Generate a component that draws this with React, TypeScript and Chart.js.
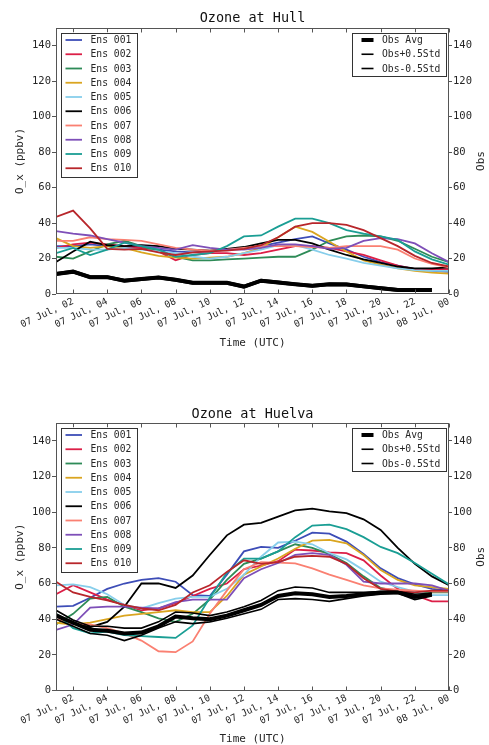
import React, { useEffect, useRef } from "react";
import { Chart, registerables } from "chart.js";

Chart.register(...registerables);

// ---------- shared axes / labels ----------
const hours = [1, 2, 3, 4, 5, 6, 7, 8, 9, 10, 11, 12, 13, 14, 15, 16, 17, 18, 19, 20, 21, 22, 23, 24];
const xTickValues = [2, 4, 6, 8, 10, 12, 14, 16, 18, 20, 22, 24];
const xTickLabels = [
  "07 Jul, 02", "07 Jul, 04", "07 Jul, 06", "07 Jul, 08", "07 Jul, 10", "07 Jul, 12",
  "07 Jul, 14", "07 Jul, 16", "07 Jul, 18", "07 Jul, 20", "07 Jul, 22", "08 Jul, 00",
];
const yTickValues = [0, 20, 40, 60, 80, 100, 120, 140];

const ensLabels = ["Ens 001", "Ens 002", "Ens 003", "Ens 004", "Ens 005", "Ens 006", "Ens 007", "Ens 008", "Ens 009", "Ens 010"];
const ensColors = ["#3d4db7", "#dc1f47", "#2e8b57", "#daa520", "#87ceeb", "#000000", "#fa8072", "#7e4fb8", "#1a9e94", "#b8262b"];
const obsLabels = ["Obs Avg", "Obs+0.5Std", "Obs-0.5Std"];

// ---------- Hull ----------
const hullEns001 = [27, 27, 28, 27, 26.5, 26, 25, 24, 23.5, 24, 25, 26, 27, 29, 31, 32.5, 28.5, 25, 21, 18, 16, 14, 13, 12.5];
const hullEns002 = [26, 28, 29, 28, 27, 26, 24, 19, 22, 23, 23, 22, 23, 25, 27, 27, 26, 24, 22, 19, 16, 14, 14, 14];
const hullEns003 = [21, 20, 24, 28, 30, 27, 24, 21, 19, 19, 19.5, 20, 20.5, 21, 21, 25, 30, 32.5, 33, 32.5, 30, 25.5, 21, 18];
const hullEns004 = [31.5, 27, 26, 27, 26, 23.5, 21.5, 20.5, 20, 20.5, 21, 23, 26, 32, 38, 35, 29.5, 24, 19, 16.5, 14.5, 13, 12, 11.5];
const hullEns005 = [26, 26, 25, 25, 26, 25, 24, 23, 21, 20, 21, 23, 25, 27.5, 27.5, 25, 22, 20, 17.5, 16, 14.5, 13.5, 13, 13];
const hullEns006 = [18, 24, 29.5, 27.5, 27, 27.5, 27, 25.5, 25, 24.5, 25.5, 26.5, 28.5, 30.5, 30.5, 28.5, 25, 22, 19.5, 17.5, 15.5, 14.5, 14.5, 15];
const hullEns007 = [30, 30, 32, 31, 30.5, 30, 28, 26, 25, 24.5, 25, 26, 27, 27, 27, 26.5, 26, 27, 27, 27, 25, 20, 17, 15];
const hullEns008 = [35.5, 34, 33, 31, 29, 27, 26, 25, 27.5, 26, 25, 25, 26, 28, 28, 27, 25.5, 26, 30, 31.5, 31, 28.5, 23, 18];
const hullEns009 = [23, 26, 22, 25, 29, 27, 25, 21, 22, 23, 27, 32.5, 33, 38, 42.5, 42.5, 40, 36, 34, 32.5, 30.5, 24, 19.5, 16.5];
const hullEns010 = [43.5, 47, 37, 25.5, 25, 25.5, 23.5, 22, 23.5, 24, 24.5, 25.5, 27.5, 32, 38, 40, 40, 39, 36, 31.5, 27, 21.5, 17.5, 15.5];
const hullObsAvg = [11.3, 12.6, 9.5, 9.5, 7.5, 8.4, 9.3, 8, 6.3, 6.3, 6.3, 4.2, 7.5, 6.5, 5.5, 4.6, 5.5, 5.4, 4.3, 3.3, 2.3, 2.3, 2.3];
const hullObsPlus = [11.9, 13.2, 10.1, 10.1, 8.1, 9.0, 9.9, 8.6, 6.9, 6.9, 6.9, 4.8, 8.1, 7.1, 6.1, 5.2, 6.1, 6.0, 4.9, 3.9, 2.9, 2.9, 2.9];
const hullObsMinus = [10.7, 12.0, 8.9, 8.9, 6.9, 7.8, 8.7, 7.4, 5.7, 5.7, 5.7, 3.6, 6.9, 5.9, 4.9, 4.0, 4.9, 4.8, 3.7, 2.7, 1.7, 1.7, 1.7];

// ---------- Huelva ----------
const huelvaEns001 = [47, 47.5, 52, 57, 60, 62, 63, 61, 53.5, 53, 65, 78, 80.5, 80, 84, 88.5, 88, 83.5, 76.5, 68.5, 63, 59.5, 57, 56];
const huelvaEns002 = [54, 59, 55, 51, 48, 45, 46, 49, 53, 57, 60, 68, 70, 72.5, 79, 78.5, 77.5, 77, 73, 64.5, 57, 53.5, 50, 50];
const huelvaEns003 = [37, 43, 51.5, 52.5, 47, 44, 40.5, 38.5, 43, 51, 62, 71, 74, 78, 82, 80, 76.5, 71.5, 64, 57.5, 55.5, 55, 55, 55];
const huelvaEns004 = [38, 37, 38, 40, 42, 43, 44, 45, 44, 44, 53, 65, 69.5, 74, 79.5, 84, 84.5, 82.5, 76, 67.5, 62, 59, 58, 57];
const huelvaEns005 = [59, 59.5, 58, 54, 48, 46, 49, 51.5, 52.5, 52.5, 57, 65, 75, 83, 83.5, 82, 77, 73.5, 67.5, 61, 58, 55.5, 53.5, 53.5];
const huelvaEns006 = [43, 38, 35.5, 38.5, 47, 60, 60, 57.5, 64.5, 76, 87, 93, 94, 97.5, 101, 102, 100.5, 99.5, 96, 90, 80, 71, 64, 59];
const huelvaEns007 = [40, 37.5, 37, 35, 32, 28, 22, 21.5, 27.5, 43, 56, 68, 72, 71.7, 71.3, 68.5, 65, 62, 59, 57.3, 56.5, 56, 55.5, 55.5];
const huelvaEns008 = [34, 37, 46.5, 47, 47, 46.5, 46, 49.5, 51, 51, 51, 63, 68, 71.5, 76, 77, 76, 70.5, 61, 60, 60, 60, 59, 56];
const huelvaEns009 = [43, 35, 32, 33, 31, 30.5, 30, 29.5, 36.5, 52, 66, 74, 74, 78, 86, 92.5, 93, 90.5, 86, 80.5, 77, 71.5, 65.5, 59.5];
const huelvaEns010 = [61, 55, 52.5, 50.5, 48, 46, 45, 48, 55, 59, 66.5, 73, 71, 72, 75, 75.5, 75, 71, 63, 57, 55.5, 55, 56, 56];
const huelvaObsAvg = [42, 38, 34, 33.5, 32, 32.5, 36, 41.5, 40.5, 40, 42, 45, 48, 53, 54.5, 54, 52.5, 53, 54, 55, 55, 52.5, 54];
const huelvaObsPlus = [45, 39.5, 36, 36, 35, 35, 38.5, 44, 43.5, 42, 44, 47, 50.5, 56, 58, 57.5, 55, 55, 55, 55.5, 55.5, 54, 54.5];
const huelvaObsMinus = [40, 36, 32, 31, 28, 31, 35, 38.5, 37.5, 38.5, 40.5, 43, 45.5, 51, 51.5, 51, 50, 51.5, 53, 54, 54.5, 51, 53];

const hullEns = [hullEns001, hullEns002, hullEns003, hullEns004, hullEns005, hullEns006, hullEns007, hullEns008, hullEns009, hullEns010];
const hullObs = [hullObsAvg, hullObsPlus, hullObsMinus];
const huelvaEns = [huelvaEns001, huelvaEns002, huelvaEns003, huelvaEns004, huelvaEns005, huelvaEns006, huelvaEns007, huelvaEns008, huelvaEns009, huelvaEns010];
const huelvaObs = [huelvaObsAvg, huelvaObsPlus, huelvaObsMinus];

const MONO = "'DejaVu Sans Mono', monospace";
const TEXT = "#262626";
const FRAME = "#555555";

type PanelProps = {
  title: string;
  ens: number[][];
  obs: number[][];
  top: number;
  height: number;
  areaTop: number;
  areaBottom: number;
  titleGap: number;
  xTitlePad: number;
};

const decorPlugin = {
  id: "decor",
  afterDatasetsDraw(chart: any, _args: any, opts: any) {
    const { ctx, chartArea: a } = chart;
    const xs = chart.scales.x;
    ctx.save();
    // frame
    const L = Math.round(a.left) + 0.5;
    const R = Math.round(a.right) - 0.5;
    const T = Math.round(a.top) + 0.5;
    const B = Math.round(a.bottom) - 0.5;
    ctx.strokeStyle = FRAME;
    ctx.lineWidth = 1;
    ctx.strokeRect(L, T, R - L, B - T);
    // inner x ticks (top and bottom)
    ctx.beginPath();
    xTickValues.forEach((v) => {
      const px = Math.round(xs.getPixelForValue(v)) + 0.5;
      ctx.moveTo(px, B);
      ctx.lineTo(px, B - 4);
      ctx.moveTo(px, T);
      ctx.lineTo(px, T + 4);
    });
    ctx.stroke();

    const ds = chart.data.datasets;
    const drawLegend = (items: any[], bx: number, by: number, bw: number, bh: number, sx0: number, sx1: number) => {
      ctx.fillStyle = "#ffffff";
      ctx.fillRect(bx, by, bw, bh);
      ctx.strokeStyle = "#333333";
      ctx.lineWidth = 1;
      ctx.strokeRect(Math.round(bx) + 0.5, Math.round(by) + 0.5, Math.round(bw), Math.round(bh));
      ctx.font = `9.7px ${MONO}`;
      ctx.textBaseline = "middle";
      ctx.textAlign = "left";
      items.forEach((d: any, i: number) => {
        const y = by + 7.5 + i * 14.25;
        ctx.strokeStyle = d.borderColor;
        ctx.lineWidth = d.borderWidth;
        ctx.beginPath();
        ctx.moveTo(bx + sx0, y);
        ctx.lineTo(bx + sx1, y);
        ctx.stroke();
        ctx.fillStyle = TEXT;
        ctx.fillText(d.label, bx + 30, y + 0.5);
      });
    };
    const ensDs = ds.filter((d: any) => d.yAxisID === "y");
    const obsDs = ds.filter((d: any) => d.yAxisID === "y2");
    drawLegend(ensDs, a.left + 4.5, a.top + 4.5, 76, 144, 5, 21.5);
    drawLegend(obsDs, a.right - 97, a.top + 4.5, 94, 42.5, 9.5, 21.5);

    // title
    ctx.fillStyle = "#111111";
    ctx.font = `13.5px ${MONO}`;
    ctx.textAlign = "center";
    ctx.textBaseline = "middle";
    ctx.fillText(opts.title, (a.left + a.right) / 2, a.top - opts.titleGap);
    // right axis label (matplotlib style, reads bottom-to-top)
    ctx.save();
    ctx.translate(481, (a.top + a.bottom) / 2);
    ctx.rotate(-Math.PI / 2);
    ctx.font = `11px ${MONO}`;
    ctx.fillStyle = TEXT;
    ctx.fillText("Obs", 0, 0);
    ctx.restore();
    ctx.restore();
  },
};

function Panel(props: PanelProps) {
  const ref = useRef<HTMLCanvasElement | null>(null);
  useEffect(() => {
    if (!ref.current) return;
    const { ens, obs, height, areaTop, areaBottom } = props;
    const datasets: any[] = [];
    ens.forEach((vals, i) => {
      datasets.push({
        label: ensLabels[i],
        data: vals.map((v, j) => ({ x: hours[j], y: v })),
        borderColor: ensColors[i],
        backgroundColor: ensColors[i],
        borderWidth: 1.8,
        pointRadius: 0,
        tension: 0,
        yAxisID: "y",
        order: 20 - i,
      });
    });
    obs.forEach((vals, i) => {
      datasets.push({
        label: obsLabels[i],
        data: vals.map((v, j) => ({ x: hours[j], y: v })),
        borderColor: "#000000",
        backgroundColor: "#000000",
        borderWidth: i === 0 ? 4 : 1.6,
        pointRadius: 0,
        tension: 0,
        yAxisID: "y2",
        order: 3 - i,
      });
    });
    const tickFont = { family: MONO, size: 10.5 };
    const yCommon = {
      type: "linear" as const,
      min: 0,
      max: 150,
      afterBuildTicks: (s: any) => {
        s.ticks = yTickValues.map((v) => ({ value: v }));
      },
      border: { display: false },
      grid: { drawOnChartArea: false, drawTicks: true, tickLength: 4, color: FRAME },
      ticks: { font: tickFont, color: TEXT, padding: 1 },
    };
    const chart = new Chart(ref.current, {
      type: "line",
      data: { datasets },
      plugins: [decorPlugin],
      options: {
        animation: false,
        responsive: false,
        devicePixelRatio: 1,
        layout: { padding: { top: areaTop, left: 0, right: 0, bottom: 0 } },
        plugins: {
          legend: { display: false },
          tooltip: { enabled: false },
          title: { display: false },
          decor: { title: props.title, titleGap: props.titleGap },
        } as any,
        scales: {
          x: {
            type: "linear",
            min: 1,
            max: 24,
            afterBuildTicks: (s: any) => {
              s.ticks = xTickValues.map((v) => ({ value: v }));
            },
            afterFit: (s: any) => {
              s.height = height - areaBottom;
            },
            border: { display: false },
            grid: { display: false, drawTicks: false },
            ticks: {
              autoSkip: false,
              minRotation: 25,
              maxRotation: 25,
              padding: 2,
              font: { family: MONO, size: 9.5 },
              color: TEXT,
              callback: (v: any) => xTickLabels[xTickValues.indexOf(Number(v))],
            },
            title: {
              display: true,
              text: "Time (UTC)",
              color: TEXT,
              font: { family: MONO, size: 11, lineHeight: 1 },
              padding: { top: 0, bottom: props.xTitlePad },
            },
          },
          y: {
            ...yCommon,
            position: "left",
            afterFit: (s: any) => {
              s.width = 56;
            },
            title: {
              display: true,
              text: "O_x (ppbv)",
              color: TEXT,
              font: { family: MONO, size: 11, lineHeight: 1 },
              padding: { top: 15, bottom: 0 },
            },
          },
          y2: {
            ...yCommon,
            position: "right",
            grid: { drawOnChartArea: false, drawTicks: true, tickLength: 3, color: FRAME },
            afterFit: (s: any) => {
              s.width = 40;
            },
          },
        } as any,
      },
    });
    return () => chart.destroy();
  }, []);
  return (
    <canvas
      ref={ref}
      width={489}
      height={props.height}
      style={{ position: "absolute", left: 0, top: props.top, width: 489, height: props.height, display: "block" }}
    />
  );
}

export default function App() {
  return (
    <div style={{ position: "fixed", left: 0, top: 0, width: 489, height: 745, background: "#ffffff", overflow: "hidden" }}>
      <Panel title="Ozone at Hull" ens={hullEns} obs={hullObs} top={0} height={372} areaTop={28} areaBottom={294} titleGap={10} xTitlePad={23.5} />
      <Panel title="Ozone at Huelva" ens={huelvaEns} obs={huelvaObs} top={372} height={373} areaTop={51} areaBottom={318.5} titleGap={9} xTitlePad={0.5} />
    </div>
  );
}
